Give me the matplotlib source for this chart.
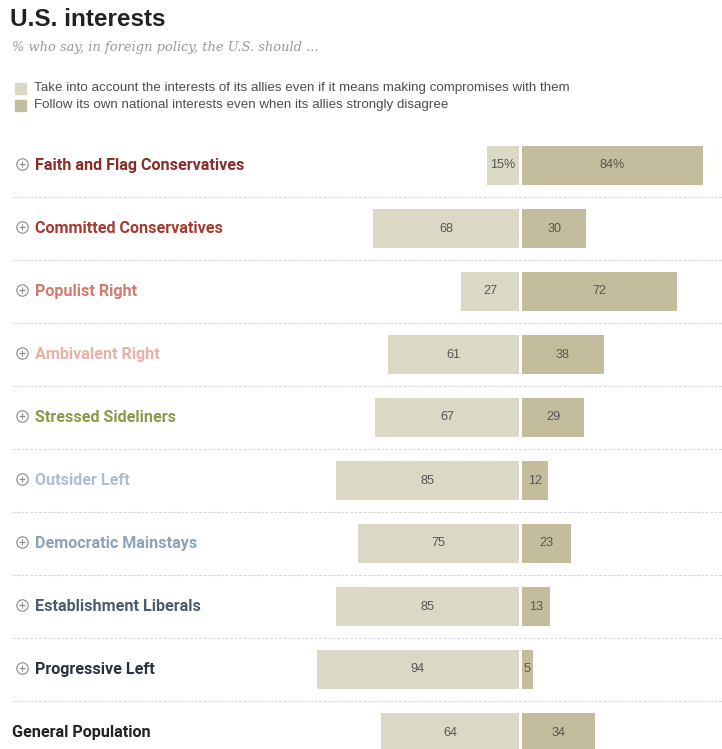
import matplotlib
matplotlib.use("Agg")
import matplotlib.pyplot as plt
import numpy as np

# Data
groups = [
    "Faith and Flag Conservatives",
    "Committed Conservatives",
    "Populist Right",
    "Ambivalent Right",
    "Stressed Sideliners",
    "Outsider Left",
    "Democratic Mainstays",
    "Establishment Liberals",
    "Progressive Left",
    "General Population",
]
allies_first = [15, 68, 27, 61, 67, 85, 75, 85, 94, 64]
own_interests = [84, 30, 72, 38, 29, 12, 23, 13, 5, 34]
group_colors = [
    "#8a2c27", "#a63a30", "#cf7a6d", "#e8b0a7", "#899a48",
    "#aebdd2", "#8ba2bd", "#4b5b70", "#2a323e", "#222222",
]
legend_labels = [
    "Take into account the interests of its allies even if it means making compromises with them",
    "Follow its own national interests even when its allies strongly disagree",
]
title = "U.S. interests"
subtitle = "% who say, in foreign policy, the U.S. should ..."

LIGHT = "#dbd9c6"
DARK = "#c3bd9d"

W, H = 722, 749
fig = plt.figure(figsize=(W / 100, H / 100), dpi=100)


def fx(px):
    return px / W


def fy(py):
    return 1 - py / H


# Title, subtitle, legend
fig.text(fx(10), fy(19), title, family="Liberation Sans", weight="bold",
         fontsize=17.5, color="#222222", va="center", ha="left")
fig.text(fx(12), fy(47), subtitle, family="DejaVu Serif", style="italic",
         fontsize=9.4, color="#9a9a9a", va="center", ha="left")
for i, (lab, col) in enumerate(zip(legend_labels, [LIGHT, DARK])):
    y = 88 + 17 * i
    fig.patches.append(plt.Rectangle((fx(15), fy(y + 5.5)), fx(11), 11 / H,
                                     transform=fig.transFigure, color=col))
    fig.text(fx(34), fy(y), lab, family="Liberation Sans", fontsize=9.6,
             color="#4f4f4f", va="center", ha="left")

# Bar chart area: full-width axes, x in percent, y in row units
px_per_pct = 2.155
center_px = 520.5
row_px = 63.0
first_row_px = 165.5
ax = fig.add_axes([0, 0, 1, 1])
ax.set_xlim(-center_px / px_per_pct, (W - center_px) / px_per_pct)
ax.set_ylim((H - first_row_px) / row_px, -first_row_px / row_px)
ax.axis("off")

n = len(groups)
ypos = np.arange(n)
gap = 0.6
bar_h = 39 / row_px
ax.barh(ypos, [-v for v in allies_first], left=-gap, height=bar_h, color=LIGHT)
ax.barh(ypos, own_interests, left=gap, height=bar_h, color=DARK)

ytrans = ax.get_yaxis_transform()
for i in range(n):
    a, b = allies_first[i], own_interests[i]
    sa = f"{a}%" if i == 0 else f"{a}"
    sb = f"{b}%" if i == 0 else f"{b}"
    ax.text(-gap - a / 2, ypos[i], sa, ha="center", va="center",
            family="Liberation Sans", fontsize=9.1, color="#555555")
    ax.text(gap + b / 2, ypos[i], sb, ha="center", va="center",
            family="Liberation Sans", fontsize=9.1, color="#555555")

    # group label with expand icon
    if i < n - 1:
        ax.plot([fx(21.5)], [ypos[i] - 0.02], transform=ytrans, marker="o",
                ms=8.2, mfc="none", mec="#8a8a8a", mew=0.8)
        ax.plot([fx(21.5)], [ypos[i] - 0.02], transform=ytrans, marker="+",
                ms=5, mec="#8a8a8a", mew=0.8)
        lx = fx(35)
    else:
        lx = fx(12)
    ax.text(lx, ypos[i], groups[i], transform=ytrans,
            family="Roboto", weight="bold", fontsize=11.6,
            color=group_colors[i], ha="left", va="center")

# Dashed separators between rows
for i in range(n - 1):
    ax.plot([fx(12), 1], [i + 0.5, i + 0.5], transform=ytrans,
            color="#d6d6d6", lw=0.8, ls=(0, (2.5, 1.5)))

fig.savefig("out.png", dpi=100)
